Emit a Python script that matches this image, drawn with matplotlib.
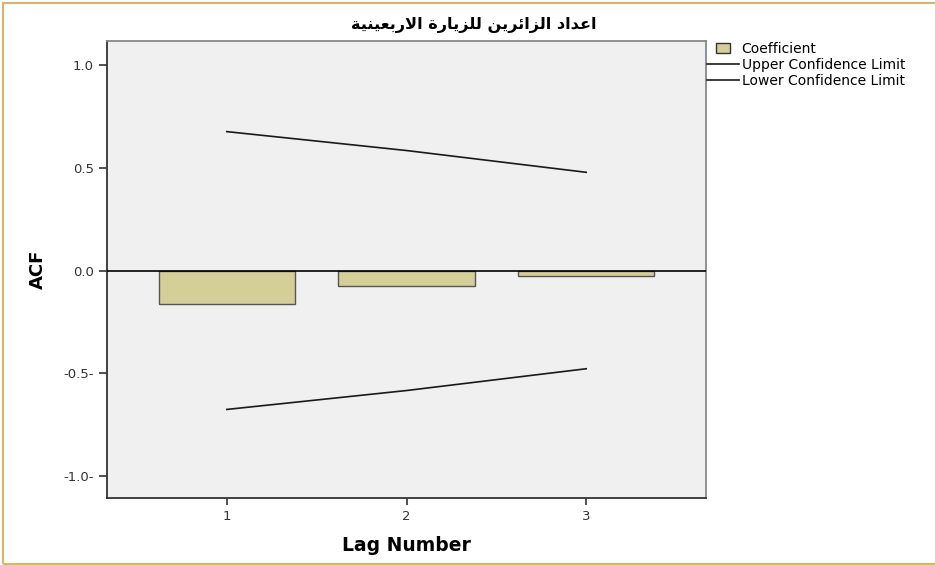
import numpy as np
import matplotlib
matplotlib.use('Agg')
import matplotlib.pyplot as plt
from matplotlib.patches import Patch, Rectangle
from matplotlib.lines import Line2D
from matplotlib.legend_handler import HandlerPatch

# data
lags = [1, 2, 3]
coefficient = [-0.165, -0.073, -0.029]
upper_limit = [0.676, 0.584, 0.478]
lower_limit = [-0.676, -0.584, -0.478]
y_ticks = [1.0, 0.5, 0.0, -0.5, -1.0]
y_tick_labels = ['1.0', '0.5', '0.0', '-0.5-', '-1.0-']
title = 'اعداد الزائرين للزيارة الاربعينية'
legend_labels = ['Coefficient', 'Upper Confidence Limit', 'Lower Confidence Limit']

# contextual forms: isolated, final, initial, medial
FORMS = {
    'ا': ('\uFE8D', '\uFE8E', None, None),
    'ع': ('\uFEC9', '\uFECA', '\uFECB', '\uFECC'),
    'د': ('\uFEA9', '\uFEAA', None, None),
    'ل': ('\uFEDD', '\uFEDE', '\uFEDF', '\uFEE0'),
    'ز': ('\uFEAF', '\uFEB0', None, None),
    'ئ': ('\uFE89', '\uFE8A', '\uFE8B', '\uFE8C'),
    'ر': ('\uFEAD', '\uFEAE', None, None),
    'ي': ('\uFEF1', '\uFEF2', '\uFEF3', '\uFEF4'),
    'ن': ('\uFEE5', '\uFEE6', '\uFEE7', '\uFEE8'),
    'ة': ('\uFE93', '\uFE94', None, None),
    'ب': ('\uFE8F', '\uFE90', '\uFE91', '\uFE92'),
    'لا': ('\uFEFB', '\uFEFC', None, None),
}


def shape_arabic(text):
    # join lam + alef first
    units = []
    i = 0
    while i < len(text):
        if text[i] == 'ل' and i + 1 < len(text) and text[i + 1] == 'ا':
            units.append('لا')
            i += 2
        else:
            units.append(text[i])
            i += 1
    out = []
    for k, u in enumerate(units):
        if u not in FORMS:
            out.append(u)
            continue
        prev = units[k - 1] if k > 0 else None
        nxt = units[k + 1] if k + 1 < len(units) else None
        join_prev = prev in FORMS and FORMS[prev][2] is not None
        join_next = FORMS[u][2] is not None and nxt in FORMS
        iso, fin, ini, med = FORMS[u]
        if join_prev and join_next:
            out.append(med)
        elif join_prev:
            out.append(fin)
        elif join_next:
            out.append(ini)
        else:
            out.append(iso)
    return ''.join(out)[::-1]


def small_box(legend, orig_handle, xdescent, ydescent, width, height, fontsize):
    # smaller swatch centred in the handle area, like SPSS
    w = width * 0.45
    h = height * 0.95
    return Rectangle((-xdescent + (width - w) / 2, -ydescent + (height - h) / 2), w, h)


plt.rcParams['font.family'] = ['DejaVu Sans']

fig = plt.figure(figsize=(9.35, 5.65), dpi=100)
fig.patch.set_facecolor('white')

# thin tan frame around the picture
fig.add_artist(Rectangle((3 / 935, 1.5 / 565), 1.0, 561 / 565, transform=fig.transFigure,
                         fill=False, edgecolor='#d9b46a', linewidth=1.5))

ax = fig.add_axes([107 / 935, 1 - 498 / 565, 599 / 935, 457 / 565])
ax.set_facecolor('#f0f0f0')

ax.bar(lags, coefficient, width=0.76, color='#d4cf98', edgecolor='#555555', linewidth=1.0, zorder=2)
ax.plot(lags, upper_limit, color='#1a1a1a', linewidth=1.2, zorder=3)
ax.plot(lags, lower_limit, color='#1a1a1a', linewidth=1.2, zorder=3)
ax.axhline(0, color='black', linewidth=1.2, zorder=4)

ax.set_xlim(1 - 2 / 3, 3 + 2 / 3)
ax.set_ylim(-1.107, 1.117)
ax.set_xticks(lags)
ax.set_xticklabels([str(l) for l in lags])
ax.set_yticks(y_ticks)
ax.set_yticklabels(y_tick_labels)
ax.tick_params(axis='both', direction='out', length=6, width=1.2, colors='#333333',
               labelsize=9.5, labelcolor='#333333')
ax.tick_params(axis='x', length=5, pad=4)

for side in ['left', 'bottom']:
    ax.spines[side].set_color('#333333')
    ax.spines[side].set_linewidth(1.3)
for side in ['top', 'right']:
    ax.spines[side].set_color('#888888')
    ax.spines[side].set_linewidth(1.3)

ax.set_xlabel('Lag Number', fontsize=13.5, fontweight='bold', labelpad=9)
ax.set_ylabel('ACF', fontsize=13, fontweight='bold', labelpad=12)

fig.text(474 / 935, 1 - 25 / 565, shape_arabic(title), ha='center', va='center',
         fontsize=11.6, fontweight='bold', family=['DejaVu Sans'])

handles = [
    Patch(facecolor='#d4cf98', edgecolor='#333333', linewidth=1.0),
    Line2D([0], [0], color='#1a1a1a', linewidth=1.2),
    Line2D([0], [0], color='#1a1a1a', linewidth=1.2),
]
fig.legend(handles, legend_labels, loc='upper left', bbox_to_anchor=(707 / 935, 1 - 42 / 565),
           frameon=False, fontsize=10, handlelength=2.3, handleheight=0.75,
           handletextpad=0.2, labelspacing=0.15, borderpad=0.0, borderaxespad=0.0,
           handler_map={Patch: HandlerPatch(patch_func=small_box)})

fig.savefig('out.png', dpi=100)
